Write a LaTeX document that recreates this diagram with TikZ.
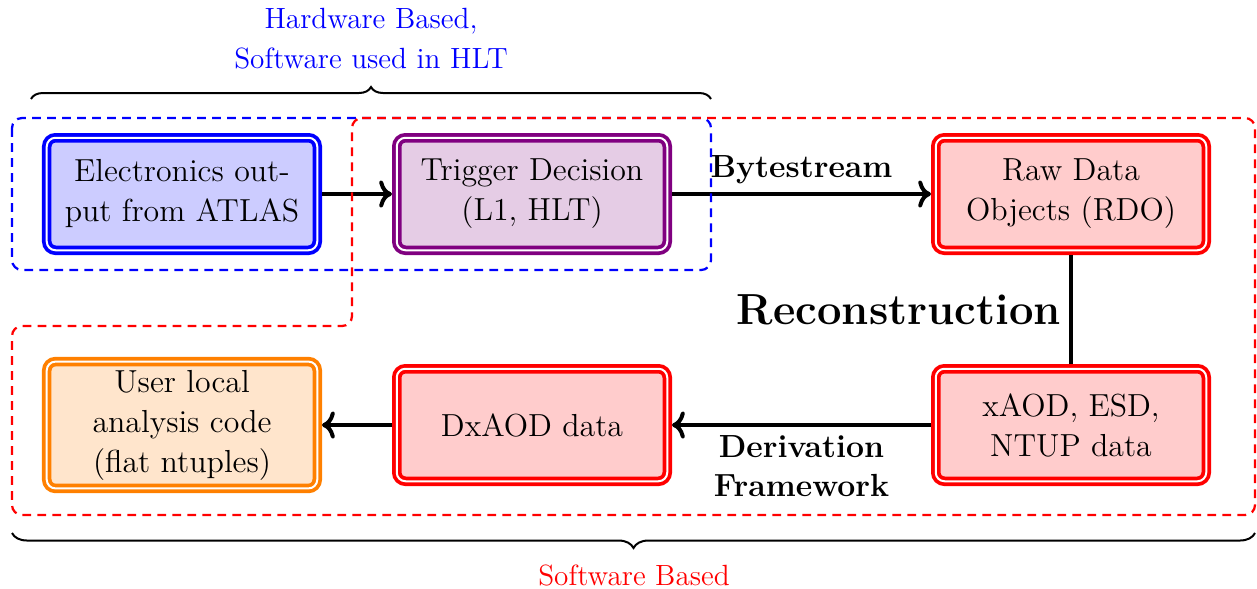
\documentclass[tikz,border=0pt]{standalone}
\usepackage{fontspec}
\usetikzlibrary{decorations.pathreplacing,arrows.meta}
\newcommand\boxfont{\fontsize{12.75}{16}\selectfont}
\newcommand\bracefont{\fontsize{11.7}{16}\selectfont}
\newcommand\lblfont{\fontsize{12.8}{15.6}\selectfont\bfseries}
\newcommand\reconfont{\fontsize{17.4}{20}\selectfont\bfseries}
\begin{document}
\begin{tikzpicture}[x=0.4pt,y=-0.4pt,
  stage/.style={draw=#1, fill=#1!20, line width=1.5pt, double=white,
    double distance=0.8pt, rounded corners=3.5pt, minimum width=108.2pt,
    minimum height=45pt, align=center, outer sep=1.9pt, font=\boxfont},
  flow/.style={line width=1.6pt, ->},
  lbl/.style={font=\lblfont, align=center},
  region/.style={line width=0.9pt, dash pattern=on 3.5pt off 2.5pt, rounded corners=4pt},
  bracket/.style={thick, decorate, decoration={brace, amplitude=#1}},
]
\useasboundingbox (0,0) rectangle (1257,588);

% processing stages
\node[stage=blue]   (elec)  at (182,194)   {Electronics out-\\put from ATLAS};
\node[stage=violet] (trig)  at (532,194)   {Trigger Decision\\(L1, HLT)};
\node[stage=red]    (rdo)   at (1071,194)  {Raw Data\\Objects (RDO)};
\node[stage=red]    (xaod)  at (1071,425)  {xAOD, ESD,\\NTUP data};
\node[stage=red]    (dxaod) at (532,425)   {DxAOD data};
\node[stage=orange] (user)  at (182,425)   {User local\\analysis code\\(flat ntuples)};

% data flow
\draw[flow] (elec.east) -- (trig.west);
\draw[flow] (trig.east) -- node[lbl, above] {Bytestream} (rdo.west);
\draw[flow, -] (rdo.south) -- node[font=\reconfont, left] {Reconstruction} (xaod.north);
\draw[flow] (xaod.west) -- node[lbl, below] {Derivation\\Framework} (dxaod.east);
\draw[flow] (dxaod.west) -- (user.east);

% hardware / software regions
\draw[region, blue] (12,118) rectangle (711,270);
\draw[region, red] (352,118) -- (1255,118) -- (1255,515) -- (12,515)
  -- (12,326) -- (352,326) -- cycle;

% braces and their captions
\coordinate (hwL) at (31,99);
\coordinate (hwR) at (711,99);
\draw[bracket=4.8pt] (hwL) -- (hwR);
\node[blue, font=\bracefont, align=center, inner sep=0pt, anchor=south] (hw)
  at (371,70) {Hardware Based,\\Software used in HLT};

\coordinate (swL) at (12,533);
\coordinate (swR) at (1255,533);
\draw[bracket=6pt, decoration={mirror}] (swL) -- (swR);
\node[red, font=\bracefont, inner sep=0pt, anchor=north] (sw)
  at (634,564) {Software Based};
\end{tikzpicture}
\end{document}
